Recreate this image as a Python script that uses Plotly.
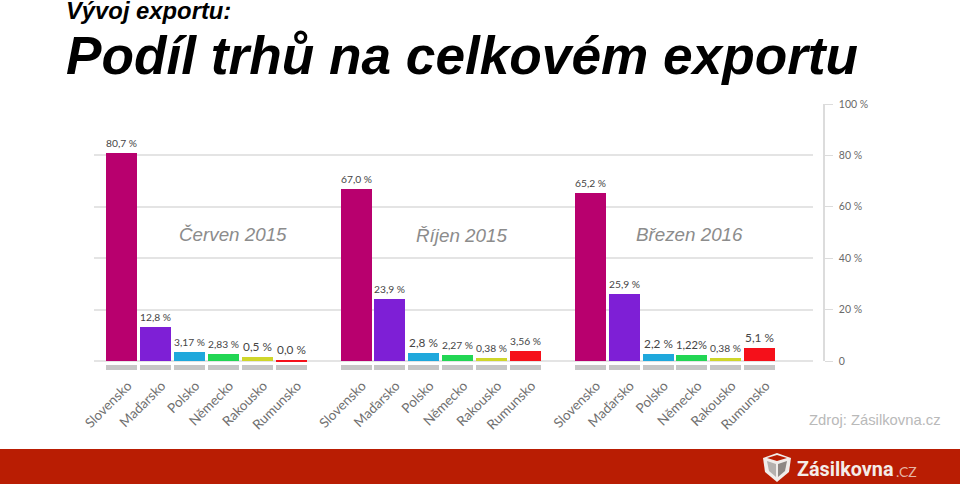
import plotly.graph_objects as go

W, H = 960, 484

countries = ["Slovensko", "Maďarsko", "Polsko", "Německo", "Rakousko", "Rumunsko"]
group_names = ["Červen 2015", "Říjen 2015", "Březen 2016"]
colors = ["#B8006E", "#7E1FD6", "#1FA8DC", "#22D654", "#CFD62A", "#F5101A"]

values_jun15 = [80.8, 13.1, 3.4, 2.9, 1.5, 0.4]
values_oct15 = [67.0, 24.0, 3.0, 2.3, 1.1, 4.0]
values_mar16 = [65.2, 26.0, 2.9, 2.3, 1.1, 5.0]

labels_jun15 = ["80,7 %", "12,8 %", "3,17 %", "2,83 %", "0,5 %", "0,0 %"]
labels_oct15 = ["67,0 %", "23,9 %", "2,8 %", "2,27 %", "0,38 %", "3,56 %"]
labels_mar16 = ["65,2 %", "25,9 %", "2,2 %", "1,22%", "0,38 %", "5,1 %"]

y_ticks = [0, 20, 40, 60, 80, 100]
y_tick_labels = ["0", "20 %", "40 %", "60 %", "80 %", "100 %"]

GROUP_STEP = 6.91
values = [values_jun15, values_oct15, values_mar16]
labels = [labels_jun15, labels_oct15, labels_mar16]


def px(x):
    return x / W


def py(y):
    return 1 - y / H


fig = go.Figure()
all_x, all_names = [], []
for g, (vals, labs) in enumerate(zip(values, labels)):
    xs = [g * GROUP_STEP + i for i in range(len(countries))]
    all_x += xs
    all_names += countries
    fig.add_trace(go.Bar(
        x=xs, y=vals, width=0.914, marker=dict(color=colors, line_width=0),
        text=labs, textposition="outside", cliponaxis=False,
        textfont=dict(family="Lato", size=11.8, color="#454545"),
        hoverinfo="skip", showlegend=False,
    ))

# grey strips below each bar
fig.add_trace(go.Bar(
    x=all_x, y=[1.9] * len(all_x), base=-3.4, width=0.914,
    marker=dict(color="#C6C6C6", line_width=0), hoverinfo="skip", showlegend=False,
))
# invisible carrier for the scale axis on the right
fig.add_trace(go.Scatter(
    x=[all_x[0]], y=[0], yaxis="y2", mode="markers", marker_opacity=0,
    hoverinfo="skip", showlegend=False,
))

annots = [
    dict(text="<b><i>Vývoj exportu:</i></b>", x=px(64), y=py(10), size=23.8, col="#000", fam="Liberation Sans", xa="left"),
    dict(text="<b><i>Podíl trhů na celkovém exportu</i></b>", x=px(64), y=py(55), size=53.2, col="#000", fam="Liberation Sans", xa="left"),
    dict(text="<i>%s</i>" % group_names[0], x=px(233), y=py(234), size=18.8, col="#8C8C8C", fam="Liberation Sans", xa="center"),
    dict(text="<i>%s</i>" % group_names[1], x=px(461), y=py(235), size=18.8, col="#8C8C8C", fam="Liberation Sans", xa="center"),
    dict(text="<i>%s</i>" % group_names[2], x=px(689), y=py(234), size=18.8, col="#8C8C8C", fam="Liberation Sans", xa="center"),
    dict(text="Zdroj: Zásilkovna.cz", x=px(943), y=py(419.5), size=14.8, col="#B9B9B9", fam="Liberation Sans", xa="right"),
    dict(text="<b>Zásilkovna</b>", x=px(795), y=py(469), size=19.8, col="#F4ECE8", fam="Roboto", xa="left"),
    dict(text=".CZ", x=px(919), y=py(471), size=14, col="#E6B4A4", fam="Lato", xa="right"),
]

shapes = [
    dict(type="rect", xref="paper", yref="paper", x0=0, x1=1, y0=0, y1=py(449),
         fillcolor="#B91D03", line_width=0, layer="below"),
]


def poly(points, fill):
    d = "M " + " L ".join(f"{px(a):.5f},{py(b):.5f}" for a, b in points) + " Z"
    return dict(type="path", xref="paper", yref="paper", path=d, fillcolor=fill, line_width=0)


# parcel logo
shapes += [
    poly([(777, 453), (791, 458), (789, 472), (777, 482), (765, 472), (763, 458)], "#F0ECEA"),
    poly([(777, 461), (787, 458), (777, 455), (767, 458)], "#B91D03"),
    poly([(767, 461), (776, 464), (776, 477), (769, 471)], "#B4B0AE"),
    poly([(778, 464), (787, 461), (785, 471), (778, 477)], "#8D8784"),
]

fig.update_layout(
    width=W, height=H, autosize=False,
    margin=dict(l=0, r=0, t=0, b=0, autoexpand=False),
    paper_bgcolor="white", plot_bgcolor="rgba(0,0,0,0)",
    barmode="overlay", bargap=0,
    shapes=shapes,
    annotations=[dict(text=a["text"], x=a["x"], y=a["y"], xref="paper", yref="paper",
                      xanchor=a["xa"], yanchor="middle", showarrow=False,
                      font=dict(family=a["fam"], size=a["size"], color=a["col"])) for a in annots],
    xaxis=dict(
        domain=[px(94), px(813)], range=[-0.82, 20.39], tickmode="array", automargin=False,
        tickvals=all_x, ticktext=all_names, tickangle=-45, showgrid=False,
        zeroline=False, showline=False, ticks="", ticklabelstandoff=3, ticklabelshift=6,
        tickfont=dict(family="Lato", size=13.5, color="#707070"),
    ),
    yaxis=dict(
        domain=[py(371.3), py(104)], range=[-4, 100], tickmode="array", automargin=False,
        tickvals=y_ticks[:-1], showticklabels=False, showgrid=True,
        gridcolor="#E4E4E4", gridwidth=1.5, zeroline=False, showline=False, ticks="",
    ),
    yaxis2=dict(
        domain=[py(361), py(104)], range=[0, 100], anchor="free", position=px(824), automargin=False,
        side="right", tickmode="array", tickvals=y_ticks, ticktext=y_tick_labels,
        showgrid=False, zeroline=False, showline=True, linecolor="#DCDCDC", linewidth=1.5,
        ticks="outside", ticklen=8, tickcolor="#DCDCDC", tickwidth=1, ticklabelstandoff=4,
        tickfont=dict(family="Lato", size=10.5, color="#6A6A6A"),
    ),
)

fig.write_html("out.html", config={"displayModeBar": False},
               post_script="document.body.style.margin='0';")
